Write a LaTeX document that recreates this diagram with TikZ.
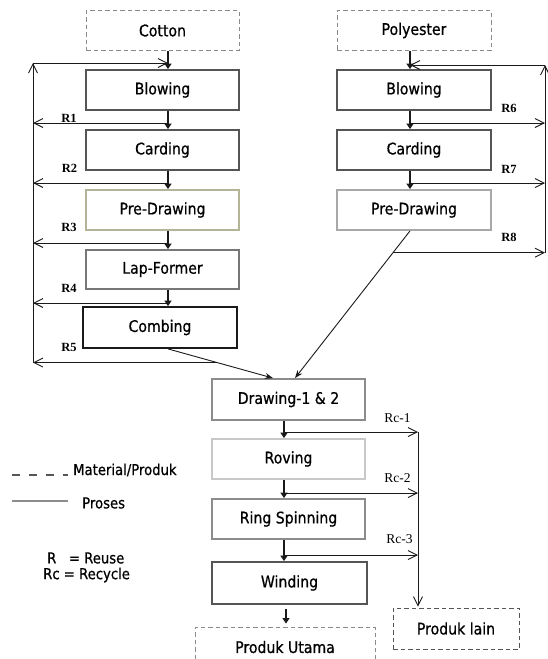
\documentclass[tikz,border=0pt]{standalone}
\usepackage{fontspec}
\setmainfont{DejaVu Sans}[FakeStretch=0.88,FakeBold=0.7]
\newfontfamily\rfont{Liberation Serif}
\usetikzlibrary{arrows.meta,calc}

\definecolor{cDark}{HTML}{555555}
\definecolor{cMid}{HTML}{777777}
\definecolor{cGray}{HTML}{8C8C8C}
\definecolor{cLight}{HTML}{A8A8A8}
\definecolor{cPale}{HTML}{C8C8C8}
\definecolor{cOlive}{HTML}{B4B498}
\definecolor{cDash}{HTML}{8A8A8A}
\definecolor{cInk}{HTML}{1A1A1A}

\tikzset{
  proc/.style={draw, rectangle, minimum width=153pt, minimum height=40pt,
    inner sep=0pt, line width=1.8pt, font=\fontsize{16}{19}\selectfont},
  matl/.style={proc, line width=0.9pt, draw=cDash,
    dash pattern=on 4.5pt off 3pt},
  flow/.style={draw=cInk, line width=1.9pt,
    -{Triangle[length=5.5pt,width=7pt]}},
  back/.style={draw=cInk, line width=0.9pt,
    -{Straight Barb[length=9pt,width=9pt,line width=0.9pt]}},
  feed/.style={draw=cInk, line width=0.9pt,
    -{Stealth[length=8pt,width=6pt]}},
  rlab/.style={font=\rfont\bfseries\fontsize{12.5}{14}\selectfont, inner sep=0pt},
  rclab/.style={font=\rfont\fontsize{13.5}{15}\selectfont, inner sep=0pt},
  legend/.style={font=\fontsize{15}{18}\selectfont, inner sep=0pt, anchor=west},
}

\begin{document}
\begin{tikzpicture}[x=1pt,y=-1pt]
\useasboundingbox (0,0) rectangle (548,659);

% guide columns
\coordinate (xl) at (168,0);
\coordinate (xr) at (410,0);
\coordinate (xm) at (284,0);
\coordinate (loopL) at (33,0);
\coordinate (loopR) at (545,0);
\coordinate (xrc) at (418,0);

% cotton line
\node[matl] (cotton) at (162.5,30.5) {Cotton};
\node[proc, draw=cDark] (blowL) at (162.5,90) {Blowing};
\node[proc, draw=cDark] (cardL) at (162.5,150) {Carding};
\node[proc, draw=cOlive] (predL) at (162.5,210) {Pre-Drawing};
\node[proc, draw=cMid, minimum height=39pt] (lapf) at (162.5,269.5) {Lap-Former};
\node[proc, draw=cInk, minimum width=154pt, minimum height=41pt] (comb) at (160,327.5) {Combing};

% polyester line
\node[matl, minimum width=154pt] (poly) at (414,30.5) {Polyester};
\node[proc, draw=cDark, minimum width=154pt] (blowR) at (414,90) {Blowing};
\node[proc, draw=cDark, minimum width=154pt] (cardR) at (414,150) {Carding};
\node[proc, draw=cLight, minimum width=154pt] (predR) at (414,210) {Pre-Drawing};

% merged line
\node[proc, draw=cGray, minimum height=41pt] (draw12) at (288.5,399.5) {Drawing-1 \& 2};
\node[proc, draw=cPale] (roving) at (288.5,459) {Roving};
\node[proc, draw=cGray] (ring) at (288.5,519) {Ring Spinning};
\node[proc, draw=cDark, minimum width=155pt, minimum height=42pt] (wind) at (289.5,583) {Winding};
\node[matl, minimum width=180pt, minimum height=40pt] (utama) at (285,647) {Produk Utama};
\node[matl, draw=cDark, minimum width=126pt, minimum height=41pt] (lain) at (456,628.5) {Produk lain};

% main flow, cotton
\draw[flow] (cotton.south -| xl) -- (blowL.north -| xl);
\draw[flow] (blowL.south -| xl) -- (cardL.north -| xl);
\draw[flow] (cardL.south -| xl) -- (predL.north -| xl);
\draw[flow] (predL.south -| xl) -- (lapf.north -| xl);
\draw[flow] (lapf.south -| xl) -- (comb.north -| xl);

% main flow, polyester
\draw[flow] (poly.south -| xr) -- (blowR.north -| xr);
\draw[flow] (blowR.south -| xr) -- (cardR.north -| xr);
\draw[flow] (cardR.south -| xr) -- (predR.north -| xr);

% feeds into drawing
\coordinate (inL) at ($(draw12.north)+(-15.5,0)$);
\coordinate (inR) at ($(draw12.north)+(6.5,0)$);
\draw[feed] (comb.south -| xl) -- (inL);
\draw[feed] (predR.south -| xr) -- (inR);

% main flow, spinning
\draw[flow] (draw12.south -| xm) -- (roving.north -| xm);
\draw[flow] (roving.south -| xm) -- (ring.north -| xm);
\draw[flow] (ring.south -| xm) -- (wind.north -| xm);
\coordinate (xw) at (286,0);
\draw[flow, shorten <=4pt, shorten >=3pt] (wind.south -| xw) -- (utama.north -| xw);

% reuse loop, cotton side
\coordinate (r1) at (168,123);
\coordinate (r2) at (168,183);
\coordinate (r3) at (168,243);
\coordinate (r4) at (168,303);
\coordinate (r5) at ($(comb.south -| xl)!0.467!(inL)$);
\coordinate (topL) at (168,63);
\foreach \p in {r1,r2,r3,r4,r5} \draw[back] (\p) -- (\p -| loopL);
\draw[back] (r5 -| loopL) -- (topL -| loopL);
\draw[back] (topL -| loopL) -- (topL);

% reuse loop, polyester side
\coordinate (r6) at (410,123);
\coordinate (r7) at (410,183);
\coordinate (r8) at ($(predR.south -| xr)!0.148!(inR)$);
\coordinate (topR) at (410,65);
\foreach \p in {r6,r7,r8} \draw[back] (\p) -- (\p -| loopR);
\draw[back] (r8 -| loopR) -- (topR -| loopR);
\draw[back] (topR -| loopR) -- (topR);

% recycle branches
\coordinate (c1) at (284,432);
\coordinate (c2) at (284,493);
\coordinate (c3) at (284,555);
\foreach \p in {c1,c2,c3} \draw[back] (\p) -- (\p -| xrc);
\draw[back] (c1 -| xrc) -- ([yshift=1pt]lain.north -| xrc);

% loop labels
\node[rlab] at (69,118.5) {R1};
\node[rlab] at (69.5,168.5) {R2};
\node[rlab] at (69,227.5) {R3};
\node[rlab] at (69,288) {R4};
\node[rlab] at (69,347.5) {R5};
\node[rlab] at (509,108) {R6};
\node[rlab] at (509,169.5) {R7};
\node[rlab] at (509,237.5) {R8};
\node[rclab] at (397.5,418) {Rc-1};
\node[rclab] at (397.5,478) {Rc-2};
\node[rclab] at (399.5,539) {Rc-3};

% legend
\draw[draw=cDark, line width=2pt, dash pattern=on 8pt off 9pt] (12,475) -- (68,475);
\node[legend] (lmat) at (73,470) {Material/Produk};
\draw[draw=cGray, line width=2.4pt] (12,501) -- (68,501);
\node[legend] (lpro) at (82,503) {Proses};
\node[legend] (lr) at (47,558) {R\ \ \ = Reuse};
\node[legend] (lrc) at (43,575) {Rc = Recycle};
\end{tikzpicture}
\end{document}
